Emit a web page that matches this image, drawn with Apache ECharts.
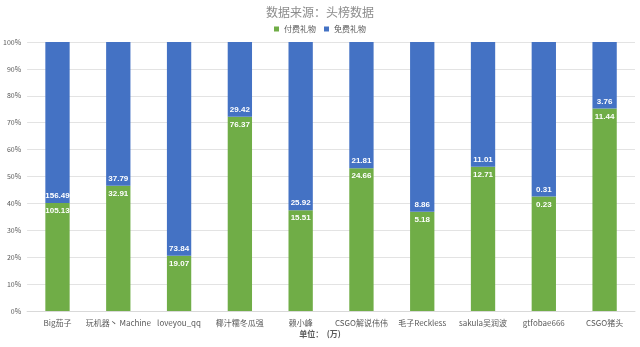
<!DOCTYPE html>
<html><head><meta charset="utf-8">
<script src="https://cdn.jsdelivr.net/npm/echarts@6/dist/echarts.min.js"></script>
<style>html,body{margin:0;padding:0;background:#fff}#c{width:640px;height:347px}</style>
</head><body><div id="c"></div>
<script>
const categories = ['Big茄子','玩机器丶 Machine','loveyou_qq','椰汁糯冬瓜强','赖小峰','CSGO解说伟伟','毛子Reckless','sakula吴润波','gtfobae666','CSGO猪头'];
const paidValues = [105.13, 32.91, 19.07, 76.37, 15.51, 24.66, 5.18, 12.71, 0.23, 11.44];
const freeValues = [156.49, 37.79, 73.84, 29.42, 25.92, 21.81, 8.86, 11.01, 0.31, 3.76];
const yTickLabels = ['0%','10%','20%','30%','40%','50%','60%','70%','80%','90%','100%'];

const totals = paidValues.map((v,i)=>v+freeValues[i]);
const paidPct = paidValues.map((v,i)=>({value: v/totals[i]*100, raw: v}));
const freePct = freeValues.map((v,i)=>({value: v/totals[i]*100, raw: v}));

const font = '"Noto Sans CJK SC", sans-serif';
const numFont = '"Liberation Sans", Arial, sans-serif';
const chart = echarts.init(document.getElementById('c'), null, {renderer:'canvas'});
chart.setOption({
  animation:false,
  backgroundColor:'#fff',
  title:{text:'数据来源：头榜数据', left:'center', top:1,
    textStyle:{fontSize:12, fontWeight:'normal', color:'#8c8c8c', fontFamily:font}},
  legend:{top:20, left:'center', itemWidth:5, itemHeight:5, itemGap:8, icon:'rect',
    textStyle:{fontSize:8, color:'#595959', fontFamily:font},
    data:['付费礼物','免费礼物']},
  grid:{left:21, right:5, top:42, bottom:36},
  xAxis:{type:'category', data:categories,
    axisLine:{lineStyle:{color:'#d9d9d9'}}, axisTick:{show:false},
    axisLabel:{fontSize:8, color:'#595959', margin:8, fontFamily:font, interval:0}},
  yAxis:{type:'value', min:0, max:100, interval:10,
    axisLabel:{fontSize:7, color:'#595959', margin:6, fontFamily:font,
      formatter:(v)=>yTickLabels[Math.round(v/10)]},
    splitLine:{lineStyle:{color:'#e3e3e3'}}, axisLine:{show:false}, axisTick:{show:false}},
  graphic:[{type:'text', left:'center', top:330,
    style:{text:'单位：  (万)', fill:'#595959', font:'bold 8px '+font}}],
  series:[
    {name:'付费礼物', type:'bar', stack:'a', data:paidPct, barWidth:'40%',
      itemStyle:{color:'#70AD47'},
      label:{show:true, position:'insideTop', distance:4, color:'#fff', fontSize:8, fontWeight:'bold',
        fontFamily:numFont,
        formatter:(p)=>p.data.raw.toFixed(2)}},
    {name:'免费礼物', type:'bar', stack:'a', data:freePct, barWidth:'40%',
      itemStyle:{color:'#4472C4'},
      label:{show:true, position:'insideBottom', distance:3, color:'#fff', fontSize:8, fontWeight:'bold',
        fontFamily:numFont,
        formatter:(p)=>p.data.raw.toFixed(2)}}
  ]
});
</script></body></html>
